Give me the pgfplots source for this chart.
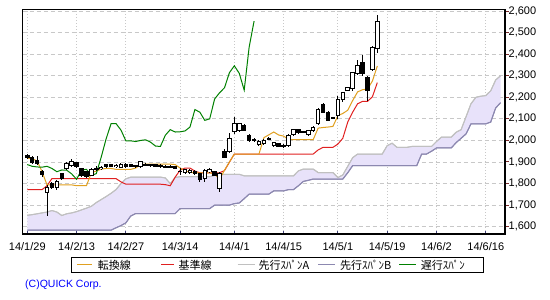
\documentclass[border=0pt]{standalone}
\usepackage{pgfplots}
\pgfplotsset{compat=1.18}
\usepackage{pgfplotstable}
\usepgfplotslibrary{fillbetween}
\usepackage{fontspec}
\setmainfont{Liberation Sans}
\newfontfamily\jp{Noto Sans CJK JP}
\definecolor{tenkan}{RGB}{224,160,32}
\definecolor{kijun}{RGB}{224,32,32}
\definecolor{spanA}{RGB}{192,192,192}
\definecolor{spanB}{RGB}{140,136,176}
\definecolor{chikou}{RGB}{0,128,0}
\definecolor{cloud}{RGB}{232,226,250}
\definecolor{gridc}{RGB}{200,200,200}
\definecolor{ytickc}{RGB}{120,40,40}
\definecolor{xtickc}{RGB}{60,60,120}

\pgfplotstableread{
i O H L C
4 1758 1792 1649 1781
6 1784 1815 1770 1811
8 1872 1900 1865 1893
9 1882 1916 1875 1901
13 1839 1870 1835 1866
15 1868 1880 1862 1875
18 1878 1890 1872 1885
19 1874 1895 1870 1890
23 1877 1905 1874 1901
25 1884 1892 1878 1888
29 1878 1884 1870 1880
32 1851 1866 1845 1863
33 1852 1866 1846 1862
36 1823 1866 1806 1862
37 1854 1870 1850 1866
39 1777 1854 1762 1846
41 1950 2036 1944 2008
42 2040 2108 2032 2078
43 2045 2082 2040 2078
47 1980 2000 1975 1995
48 1984 2005 1980 2000
50 1977 1995 1970 1992
53 1977 2030 1970 2024
54 2027 2052 2020 2050
57 2028 2048 2022 2044
58 2044 2066 2040 2062
59 2078 2150 2070 2143
63 2115 2205 2100 2192
64 2192 2224 2180 2221
65 2232 2248 2228 2244
66 2241 2318 2228 2314
67 2311 2375 2305 2346
70 2328 2440 2320 2432
71 2425 2580 2405 2553
}\upc

\pgfplotstableread{
i O H L C
0 1931 1938 1915 1920
1 1922 1930 1890 1897
2 1905 1928 1888 1895
3 1857 1864 1830 1842
5 1800 1806 1775 1784
7 1846 1850 1818 1823
10 1898 1902 1872 1877
11 1869 1873 1832 1839
12 1854 1860 1828 1835
14 1872 1880 1860 1866
16 1889 1892 1872 1877
17 1889 1893 1875 1878
20 1890 1895 1874 1878
21 1889 1893 1876 1879
22 1882 1888 1874 1880
24 1890 1896 1880 1884
26 1887 1890 1876 1880
27 1884 1889 1872 1877
28 1880 1886 1872 1876
30 1878 1882 1866 1870
31 1858 1870 1840 1855
34 1858 1862 1840 1845
35 1846 1850 1809 1820
38 1857 1860 1835 1838
40 1950 1958 1918 1923
44 2071 2075 2045 2048
45 2022 2028 1995 1998
46 2005 2010 1995 1998
49 2010 2015 2000 2003
51 1986 1990 1968 1974
52 1975 1982 1965 1972
55 2050 2055 2030 2039
56 2042 2046 2036 2040
60 2167 2175 2125 2131
61 2131 2138 2090 2093
62 2104 2110 2098 2100
68 2361 2397 2300 2311
69 2294 2300 2183 2233
}\dnc

\pgfplotstableread{
i T K
0 1918 1772
1 1915 1772
2 1905 1772
3 1855 1772
4 1794 1790
5 1794 1823
6 1794 1823
7 1794 1823
8 1794 1823
9 1794 1823
10 1790 1823
11 1790 1823
12 1790 1823
13 1850 1823
14 1858 1823
15 1867 1823
16 1870 1823
17 1870 1823
18 1866 1823
19 1866 1808
20 1866 1797
21 1866 1797
22 1872 1797
23 1888 1797
24 1890 1797
25 1890 1797
26 1890 1797
27 1890 1797
28 1890 1795
29 1890 1790
30 1888 1830
31 1872 1862
32 1860 1872
33 1852 1872
34 1850 1858
35 1850 1850
36 1850 1850
37 1850 1850
38 1844 1850
39 1820 1850
40 1862 1860
41 1900 1899
42 1937 1937
43 1937 1937
44 1937 1937
45 1937 1937
46 1937 1937
47 1937 1937
48 2013 1937
49 2026 1937
50 2039 1937
51 2025 1937
52 2020 1937
53 2004 1937
54 2004 1937
55 2004 1937
56 2004 1937
57 2004 1937
58 2004 1937
59 2057 1956
60 2060 1968
61 2062 1968
62 2065 1968
63 2115 1983
64 2125 2010
65 2140 2085
66 2185 2131
67 2225 2170
68 2235 2181
69 2238 2181
70 2275 2202
71 2345 2268
}\tk

\pgfplotstableread{
j V
0 1888
1 1880
2 1877
3 1876
4 1880
5 1870
6 1855
7 1863
8 1862
9 1845
10 1820
11 1862
12 1866
13 1838
14 1846
15 1923
16 2008
17 2078
18 2078
19 2048
20 1998
21 1998
22 1995
23 2000
24 2003
25 1992
26 1974
27 1972
28 2024
29 2050
30 2039
31 2040
32 2044
33 2062
34 2143
35 2131
36 2093
37 2100
38 2192
39 2221
40 2244
41 2314
42 2346
43 2311
44 2233
45 2432
46 2553
}\chk

\pgfplotstableread{
i A B
0 1653 1584
1 1656 1584
2 1660 1584
3 1664 1584
4 1668 1584
5 1675 1584
6 1668 1584
7 1652 1584
8 1660 1584
9 1664 1584
10 1670 1584
11 1678 1584
12 1686 1584
13 1695 1584
14 1712 1584
15 1726 1584
16 1740 1584
17 1755 1584
18 1772 1595
19 1800 1605
20 1822 1618
21 1830 1650
22 1830 1661
23 1830 1661
24 1830 1661
25 1830 1661
26 1830 1661
27 1830 1661
28 1826 1661
29 1800 1661
30 1828 1661
31 1832 1684
32 1832 1684
33 1832 1684
34 1832 1684
35 1832 1684
36 1832 1684
37 1832 1684
38 1838 1700
39 1843 1700
40 1843 1700
41 1843 1700
42 1843 1707
43 1843 1710
44 1836 1730
45 1836 1751
46 1836 1751
47 1836 1751
48 1836 1751
49 1836 1751
50 1836 1766
51 1836 1766
52 1836 1766
53 1836 1772
54 1836 1772
55 1859 1790
56 1867 1810
57 1867 1815
58 1867 1821
59 1851 1821
60 1851 1821
61 1851 1821
62 1851 1821
63 1828 1821
64 1840 1821
65 1880 1850
66 1920 1883
67 1937 1883
68 1937 1883
69 1937 1883
70 1937 1883
71 1937 1883
72 1937 1883
73 1976 1883
74 1987 1883
75 1968 1883
76 1968 1883
77 1968 1883
78 1972 1883
79 1972 1883
80 1972 1937
81 1972 1937
82 1972 1950
83 1995 1965
84 2015 1965
85 2015 1965
86 2015 1965
87 2038 1990
88 2050 2010
89 2110 2030
90 2170 2077
91 2200 2077
92 2205 2077
93 2208 2077
94 2230 2085
95 2280 2150
96 2300 2175
}\span

\begin{document}
\begin{tikzpicture}
\begin{axis}[
  at={(22.7bp,66bp)}, anchor=south west,
  width=482.3bp, height=224.2bp, scale only axis,
  xmin=-0.93, xmax=96.9, ymin=1566.2, ymax=2605.6,
  axis line style={black, line width=1.4bp},
  xtick={0,10,20,31,42,52,63,73,83,93},
  xticklabels={14/1/29,14/2/13,14/2/27,14/3/14,14/4/1,14/4/15,14/5/1,14/5/19,14/6/2,14/6/16},
  ytick={1600,1700,1800,1900,2000,2100,2200,2300,2400,2500,2600},
  yticklabels={{1,600},{1,700},{1,800},{1,900},{2,000},{2,100},{2,200},{2,300},{2,400},{2,500},{2,600}},
  xtick pos=left, ytick pos=right, yticklabel pos=right,
  tick align=outside, major tick length=4bp,
  xtick style={draw=xtickc, line width=1bp, yshift=3bp},
  ytick style={draw=ytickc, line width=1bp},
  grid=major,
  x grid style={gridc, line width=0.8bp, dash pattern=on 1bp off 2bp},
  y grid style={gridc, line width=0.8bp, dash pattern=on 4bp off 3bp},
  tick label style={font=\fontsize{11bp}{13bp}\selectfont},
  x tick label style={yshift=-0.8bp},
  y tick label style={inner xsep=0bp, xshift=-0.5bp},
]
\addplot[name path=sa, spanA, line width=1bp, forget plot] table[x=i, y=A] {\span};
\addplot[name path=sb, spanB, line width=1bp, forget plot] table[x=i, y=B] {\span};
\addplot[cloud, forget plot] fill between[of=sa and sb];
\addplot[spanA, line width=1bp, forget plot] table[x=i, y=A] {\span};
\addplot[spanB, line width=1bp, forget plot] table[x=i, y=B] {\span};
\addplot[kijun, line width=1bp, forget plot] table[x=i, y=K] {\tk};
\addplot[tenkan, line width=1bp, forget plot] table[x=i, y=T] {\tk};
\addplot[chikou, line width=1bp, forget plot] table[x=j, y=V] {\chk};
% wicks
\addplot[draw=none, mark=none, forget plot, error bars/.cd, y dir=both, y explicit, error mark=none,
  error bar style={draw=black, line width=1bp}]
  table[x=i, y expr={(\thisrow{H}+\thisrow{L})/2}, y error expr={(\thisrow{H}-\thisrow{L})/2}] {\upc};
\addplot[draw=none, mark=none, forget plot, error bars/.cd, y dir=both, y explicit, error mark=none,
  error bar style={draw=black, line width=1bp}]
  table[x=i, y expr={(\thisrow{H}+\thisrow{L})/2}, y error expr={(\thisrow{H}-\thisrow{L})/2}] {\dnc};
% bodies
\addplot[draw=none, mark=none, forget plot, error bars/.cd, y dir=both, y explicit, error mark=none,
  error bar style={draw=black, line width=4.5bp}]
  table[x=i, y expr={(\thisrow{O}+\thisrow{C})/2}, y error expr={abs(\thisrow{O}-\thisrow{C})/2+2.3}] {\dnc};
\addplot[draw=none, mark=none, forget plot, error bars/.cd, y dir=both, y explicit, error mark=none,
  error bar style={draw=black, line width=4.5bp}]
  table[x=i, y expr={(\thisrow{O}+\thisrow{C})/2}, y error expr={abs(\thisrow{O}-\thisrow{C})/2+2.3}] {\upc};
\addplot[draw=none, mark=none, forget plot, error bars/.cd, y dir=both, y explicit, error mark=none,
  error bar style={draw=white, line width=2.5bp}]
  table[x=i, y expr={(\thisrow{O}+\thisrow{C})/2}, y error expr={max(abs(\thisrow{O}-\thisrow{C})/2-2.3,0)}] {\upc};
\end{axis}
% legend
\draw[black, line width=1.2bp] (71.7bp,27.7bp) rectangle (483.3bp,42.3bp);
\begin{scope}[every node/.style={anchor=west, inner sep=0bp, font=\jp\fontsize{11bp}{13bp}\selectfont}]
\draw[tenkan, line width=1bp] (77bp,35bp) -- (92.3bp,35bp);
\node at (97.7bp,35bp) {転換線};
\draw[kijun, line width=1bp] (161bp,35bp) -- (174.3bp,35bp);
\node at (178.3bp,35bp) {基準線};
\draw[spanA, line width=1bp] (237.7bp,35bp) -- (255bp,35bp);
\node at (258.3bp,35bp) {先行ｽﾊﾟﾝA};
\draw[spanB, line width=1bp] (318.3bp,35bp) -- (335bp,35bp);
\node at (340bp,35bp) {先行ｽﾊﾟﾝB};
\draw[chikou, line width=1bp] (399.3bp,35bp) -- (415.7bp,35bp);
\node at (420.7bp,35bp) {遅行ｽﾊﾟﾝ};
\end{scope}
\node[anchor=west, inner sep=0bp, text={rgb,255:red,0;green,0;blue,255}, font=\fontsize{10.5bp}{12bp}\selectfont] at (25bp,15.5bp) {(C)QUICK Corp.};
\pgfresetboundingbox
\path (0bp,0bp) rectangle (550bp,300bp);
\end{tikzpicture}
\end{document}
